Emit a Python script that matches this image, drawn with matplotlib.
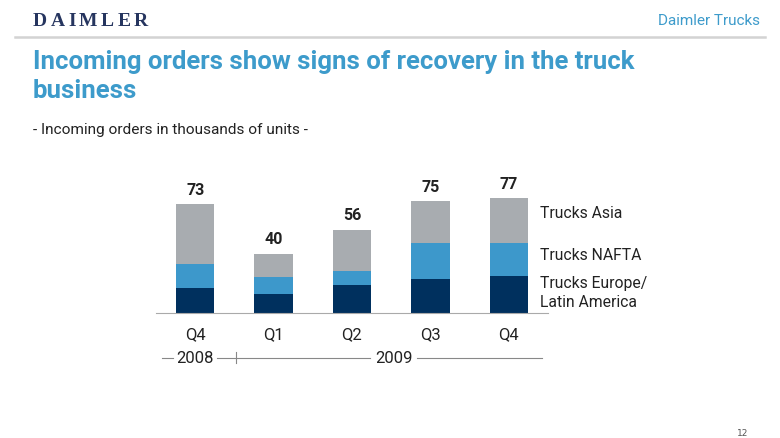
import matplotlib.pyplot as plt
from matplotlib.lines import Line2D
import numpy as np

quarters = ['Q4', 'Q1', 'Q2', 'Q3', 'Q4']
europe = [17, 13, 19, 23, 25]
nafta = [16, 11, 9, 24, 22]
asia = [40, 16, 28, 28, 30]
totals = [73, 40, 56, 75, 77]
series_names = ['Trucks Europe/\nLatin America', 'Trucks NAFTA', 'Trucks Asia']

DARK = '#00305E'
BLUE = '#3D98CB'
GRAY = '#A8ACB0'
TITLE = '#3D9BCB'
TXT = '#222222'

W, H = 780, 439
fig = plt.figure(figsize=(W / 100, H / 100), dpi=100)

def fx(px):
    return px / W

def fy(py):
    return 1 - py / H

sans = 'Roboto'

# header, letter-spaced logo
renderer = fig.canvas.get_renderer()
cx = 33
for ch in 'DAIMLER':
    t = fig.text(fx(cx), fy(21), ch, family='Liberation Serif', fontsize=14,
                 fontweight='bold', color='#26355F', va='center', ha='left')
    cx += t.get_window_extent(renderer).width + 3.4
fig.text(fx(760), fy(21), 'Daimler Trucks', family=sans, fontsize=11,
         color=TITLE, va='center', ha='right')
fig.add_artist(Line2D([fx(15), fx(765)], [fy(37.5), fy(37.5)], color='#D3D3D3', lw=1.8))

fig.text(fx(33), fy(62), 'Incoming orders show signs of recovery in the truck',
         family=sans, fontsize=18.5, fontweight='bold', color=TITLE, va='center')
fig.text(fx(33), fy(91), 'business', family=sans, fontsize=18.5,
         fontweight='bold', color=TITLE, va='center')
fig.text(fx(33), fy(130), '- Incoming orders in thousands of units -', family=sans,
         fontsize=11.1, color=TXT, va='center')

# chart axes
base_px = 314.3
scale = 1.493
ymax = 90
ax = fig.add_axes([fx(156), (H - base_px) / H, 392 / W, ymax * scale / H])
x = np.arange(len(quarters))
bw = 0.49
ax.bar(x, europe, bw, color=DARK)
ax.bar(x, nafta, bw, bottom=europe, color=BLUE)
ax.bar(x, asia, bw, bottom=np.add(europe, nafta), color=GRAY)
for xi, t in zip(x, totals):
    ax.text(xi, t + 5, str(t), ha='center', va='bottom', fontsize=11.5,
            fontweight='bold', color=TXT, family=sans)

ax.set_xlim(-0.5, 4.5)
ax.set_ylim(0, ymax)
for s in ['top', 'right', 'left']:
    ax.spines[s].set_visible(False)
ax.spines['bottom'].set_color('#AAAAAA')
ax.spines['bottom'].set_linewidth(0.8)
ax.set_yticks([])
ax.set_xticks(x)
ax.set_xticklabels(quarters, family=sans, fontsize=12, color=TXT)
ax.tick_params(axis='x', length=0, pad=9)

# legend labels beside last bar
label_y = [14.3, 39.7, 67.8]
for name, ly in zip(series_names, label_y):
    ax.text(4.40, ly, name, ha='left', va='center', fontsize=11.3, family=sans,
            color=TXT, linespacing=1.3, clip_on=False)

# year bracket
yl = fy(359)
lc = '#888888'
fig.add_artist(Line2D([fx(162), fx(173)], [yl, yl], color=lc, lw=0.8))
fig.text(fx(195), yl, '2008', ha='center', va='center', family=sans, fontsize=12, color=TXT)
fig.add_artist(Line2D([fx(217), fx(370)], [yl, yl], color=lc, lw=0.8))
fig.add_artist(Line2D([fx(236), fx(236)], [fy(353), fy(364)], color=lc, lw=0.8))
fig.text(fx(394), yl, '2009', ha='center', va='center', family=sans, fontsize=12, color=TXT)
fig.add_artist(Line2D([fx(417), fx(542)], [yl, yl], color=lc, lw=0.8))

fig.text(fx(748), fy(434), '12', ha='right', va='center', fontsize=6.5, color='#555555')

fig.savefig('out.png', dpi=100)
